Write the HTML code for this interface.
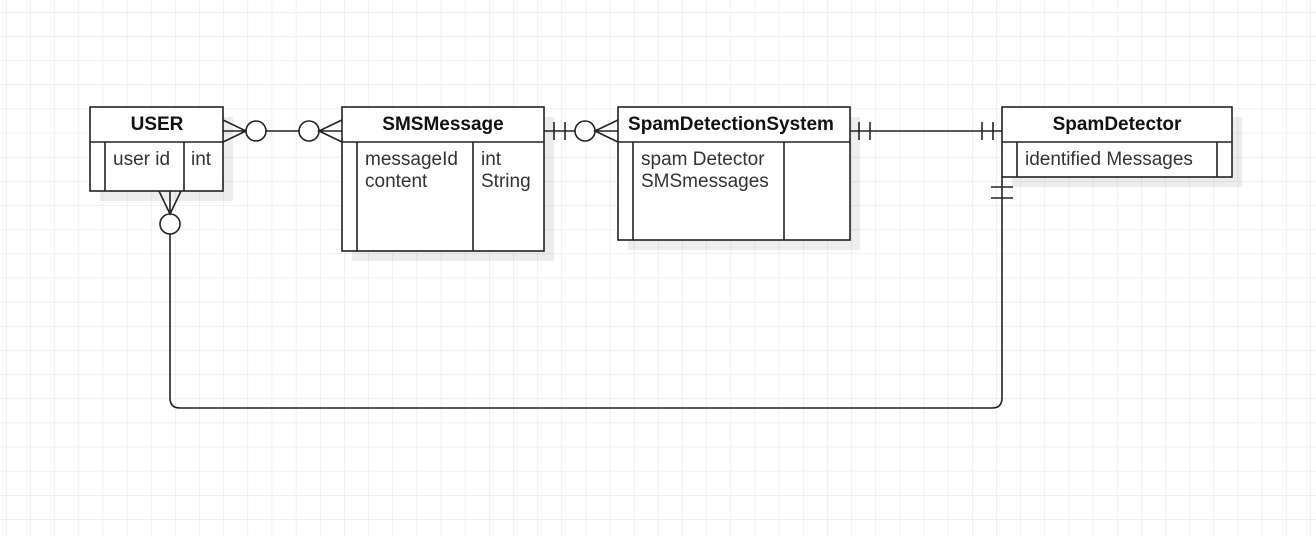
<!DOCTYPE html>
<html><head><meta charset="utf-8"><style>
html,body{margin:0;padding:0;background:#fff;}
body{width:1316px;height:536px;overflow:hidden;}
</style></head><body>
<svg width="1316" height="536" xmlns="http://www.w3.org/2000/svg" font-family="'Liberation Sans', Arial, sans-serif">
<defs>
<pattern id="g" x="6" y="12" width="24.15" height="24.15" patternUnits="userSpaceOnUse">
<path d="M0 0 V24.15 M0 0 H24.15" stroke="#e6e6e6" stroke-width="1.2" fill="none"/>
</pattern>
</defs>
<rect width="1316" height="536" fill="url(#g)"/>
<!-- shadows -->
<g fill="#000" opacity="0.07">
<rect x="100" y="117" width="133" height="84"/>
<rect x="352" y="117" width="202" height="144"/>
<rect x="628" y="117" width="232" height="133"/>
<rect x="1012" y="117" width="230" height="70"/>
</g>
<g stroke="#222" stroke-width="1.6" fill="#fff">
<!-- USER -->
<rect x="90" y="107" width="133" height="84"/>
<line x1="90" y1="142" x2="223" y2="142"/>
<line x1="105" y1="142" x2="105" y2="191"/>
<line x1="184" y1="142" x2="184" y2="191"/>
<!-- SMS -->
<rect x="342" y="107" width="202" height="144"/>
<line x1="342" y1="142" x2="544" y2="142"/>
<line x1="357" y1="142" x2="357" y2="251"/>
<line x1="473" y1="142" x2="473" y2="251"/>
<!-- SDS -->
<rect x="618" y="107" width="232" height="133"/>
<line x1="618" y1="142" x2="850" y2="142"/>
<line x1="633" y1="142" x2="633" y2="240"/>
<line x1="784" y1="142" x2="784" y2="240"/>
<!-- SD -->
<rect x="1002" y="107" width="230" height="70"/>
<line x1="1002" y1="142" x2="1232" y2="142"/>
<line x1="1017" y1="142" x2="1017" y2="177"/>
<line x1="1217" y1="142" x2="1217" y2="177"/>
</g>
<g stroke="#222" stroke-width="1.6" fill="none">
<!-- USER - SMS -->
<path d="M223 120 L246 131 L223 142 M223 131 H246"/>
<circle cx="256" cy="131" r="10" fill="#fff"/>
<line x1="266" y1="131" x2="299" y2="131"/>
<circle cx="309" cy="131" r="10" fill="#fff"/>
<path d="M342 120 L319 131 L342 142 M319 131 H342"/>
<!-- SMS - SDS -->
<line x1="544" y1="131" x2="575" y2="131"/>
<line x1="554" y1="122" x2="554" y2="140"/>
<line x1="565" y1="122" x2="565" y2="140"/>
<circle cx="585" cy="131" r="10" fill="#fff"/>
<path d="M618 120 L595 131 L618 142 M595 131 H618"/>
<!-- SDS - SD -->
<line x1="850" y1="131" x2="1002" y2="131"/>
<line x1="859" y1="122" x2="859" y2="140"/>
<line x1="870" y1="122" x2="870" y2="140"/>
<line x1="982" y1="122" x2="982" y2="140"/>
<line x1="993" y1="122" x2="993" y2="140"/>
<!-- SD - USER -->
<path d="M1002 177 V398 Q1002 408 992 408 H180 Q170 408 170 398 V234"/>
<line x1="991" y1="187" x2="1013" y2="187"/>
<line x1="991" y1="198" x2="1013" y2="198"/>
<circle cx="170" cy="224" r="10" fill="#fff"/>
<path d="M159 191 L170 214 L181 191 M170 191 V214"/>
</g>
<g font-size="19" fill="#111" text-anchor="middle" font-weight="bold">
<text x="157" y="130">USER</text>
<text x="443" y="130">SMSMessage</text>
<text x="731" y="130">SpamDetectionSystem</text>
<text x="1117" y="130">SpamDetector</text>
</g>
<g font-size="19" fill="#333">
<text x="113" y="165">user id</text>
<text x="191" y="165">int</text>
<text x="365" y="165">messageId</text>
<text x="365" y="187">content</text>
<text x="481" y="165">int</text>
<text x="481" y="187">String</text>
<text x="641" y="165">spam Detector</text>
<text x="641" y="187">SMSmessages</text>
<text x="1025" y="165">identified Messages</text>
</g>
</svg>
</body></html>
